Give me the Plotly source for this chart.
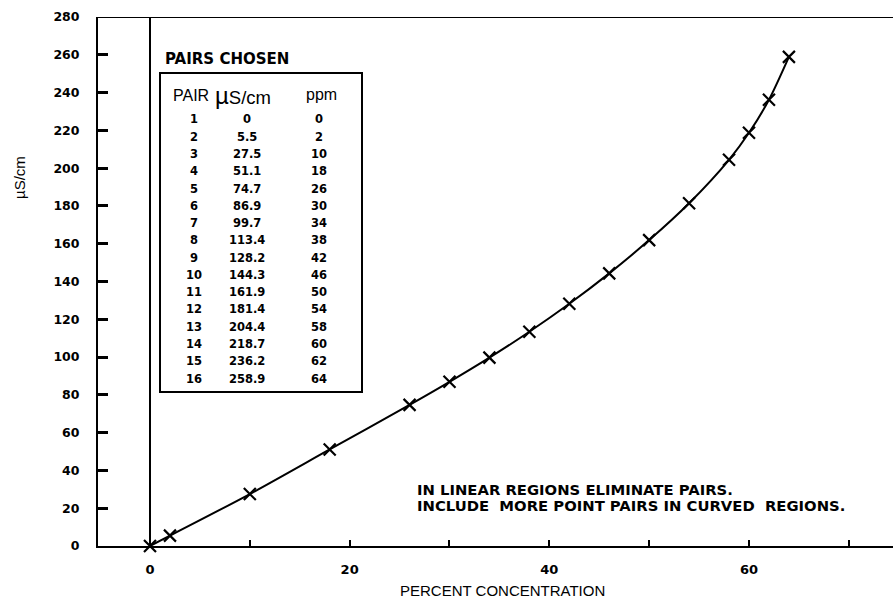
import plotly.graph_objects as go

# ---- data ----
pair_no = [str(i) for i in range(1, 17)]
ppm = [0, 2, 10, 18, 26, 30, 34, 38, 42, 46, 50, 54, 58, 60, 62, 64]
us_cm = [0, 5.5, 27.5, 51.1, 74.7, 86.9, 99.7, 113.4, 128.2, 144.3,
         161.9, 181.4, 204.4, 218.7, 236.2, 258.9]
us_cm_text = ["0", "5.5", "27.5", "51.1", "74.7", "86.9", "99.7", "113.4",
              "128.2", "144.3", "161.9", "181.4", "204.4", "218.7", "236.2", "258.9"]
x_tickvals = [0, 10, 20, 30, 40, 50, 60, 70]
x_ticktext = ["0", "", "20", "", "40", "", "60", ""]
y_tickvals = list(range(0, 281, 20))

W, H = 893, 602
L, R, T, B = 98, 0, 17, 56
PW, PH = W - L - R, H - T - B


def px(x):
    return (x - L) / PW


def py(y):
    return (H - B - y) / PH


BOLD = "DejaVu Sans"
REG = "Liberation Sans, Arial, sans-serif"
fig = go.Figure()
fig.add_trace(go.Scatter(
    x=ppm, y=us_cm, mode="lines+markers",
    line=dict(color="black", width=2, shape="spline", smoothing=0.8),
    marker=dict(symbol="x-thin", size=12, line=dict(color="black", width=2.2)),
    cliponaxis=False, showlegend=False, hoverinfo="skip"))

shapes = [
    dict(type="line", xref="x", yref="y", x0=0, x1=0, y0=0, y1=280,
         line=dict(color="black", width=2)),
    dict(type="line", xref="paper", yref="y", x0=0, x1=1, y0=280, y1=280,
         line=dict(color="black", width=2)),
    dict(type="rect", xref="paper", yref="paper", x0=px(160), x1=px(362),
         y0=py(392), y1=py(73), line=dict(color="black", width=2),
         fillcolor="white"),
]

ann = []
ann.append(dict(text="<b>PAIRS CHOSEN</b>", x=px(163), y=py(59), xanchor="left",
                yanchor="middle", font=dict(size=15, family=BOLD)))
ann.append(dict(text="PAIR", x=px(191), y=py(96), xanchor="center", yanchor="middle",
                font=dict(size=16)))
ann.append(dict(text="<span style='font-size:24px'>µ</span>S/cm", x=px(243), y=py(96),
                xanchor="center", yanchor="middle", font=dict(size=18.5)))
ann.append(dict(text="ppm", x=px(321), y=py(95), xanchor="center", yanchor="middle",
                font=dict(size=16)))
for i in range(16):
    yy = py(119.5 + i * 17.27)
    ann.append(dict(text="<b>" + pair_no[i] + "</b>", x=px(194), y=yy, xanchor="center",
                    yanchor="middle", font=dict(size=11.5, family=BOLD)))
    ann.append(dict(text="<b>" + us_cm_text[i] + "</b>", x=px(247), y=yy, xanchor="center",
                    yanchor="middle", font=dict(size=11.5, family=BOLD)))
    ann.append(dict(text="<b>" + str(ppm[i]) + "</b>", x=px(319), y=yy, xanchor="center",
                    yanchor="middle", font=dict(size=11.5, family=BOLD)))

ann.append(dict(text="<b>IN LINEAR REGIONS ELIMINATE PAIRS.</b>", x=px(415), y=py(489),
                xanchor="left", yanchor="middle", font=dict(size=14.8, family=BOLD)))
ann.append(dict(text="<b>INCLUDE\u00a0 MORE POINT PAIRS IN CURVED\u00a0 REGIONS.</b>",
                x=px(415), y=py(506), xanchor="left", yanchor="middle",
                font=dict(size=14.8, family=BOLD)))
ann.append(dict(text="PERCENT CONCENTRATION", x=px(502), y=py(590), xanchor="center",
                yanchor="middle", font=dict(size=15)))
ann.append(dict(text="µS/cm", x=px(19), y=py(178), xanchor="center", yanchor="middle",
                textangle=-90, font=dict(size=15)))
for a in ann:
    a.update(xref="paper", yref="paper", showarrow=False)
    a.setdefault("font", {})
    a["font"].setdefault("family", REG)
    a["font"]["color"] = "black"

fig.update_layout(
    width=W, height=H, margin=dict(l=L, r=R, t=T, b=B, autoexpand=False),
    paper_bgcolor="white", plot_bgcolor="white",
    font=dict(family=REG, color="black"),
    shapes=shapes, annotations=ann,
    xaxis=dict(range=[(L - 150) / 9.983, (W - R - 150) / 9.983], tickvals=x_tickvals,
               ticktext=x_ticktext, ticks="inside", ticklen=6, tickwidth=1.5,
               tickcolor="black", showline=True, linewidth=2, linecolor="black",
               showgrid=False, zeroline=False, ticklabelstandoff=10,
               tickfont=dict(size=13, family="DejaVu Sans", weight="bold")),
    yaxis=dict(range=[0, 280], tickvals=y_tickvals, ticks="inside", ticklen=10,
               tickwidth=2.5, tickcolor="black", showline=True, linewidth=2,
               linecolor="black", showgrid=False, zeroline=False, ticklabelstandoff=14,
               tickfont=dict(size=12.5, family="DejaVu Sans", weight="bold")),
)

fig.write_html("out.html", config={"displayModeBar": False},
               post_script="document.body.style.margin='0';"
                           "document.body.style.overflow='hidden';"
                           "document.documentElement.style.overflow='hidden';")
